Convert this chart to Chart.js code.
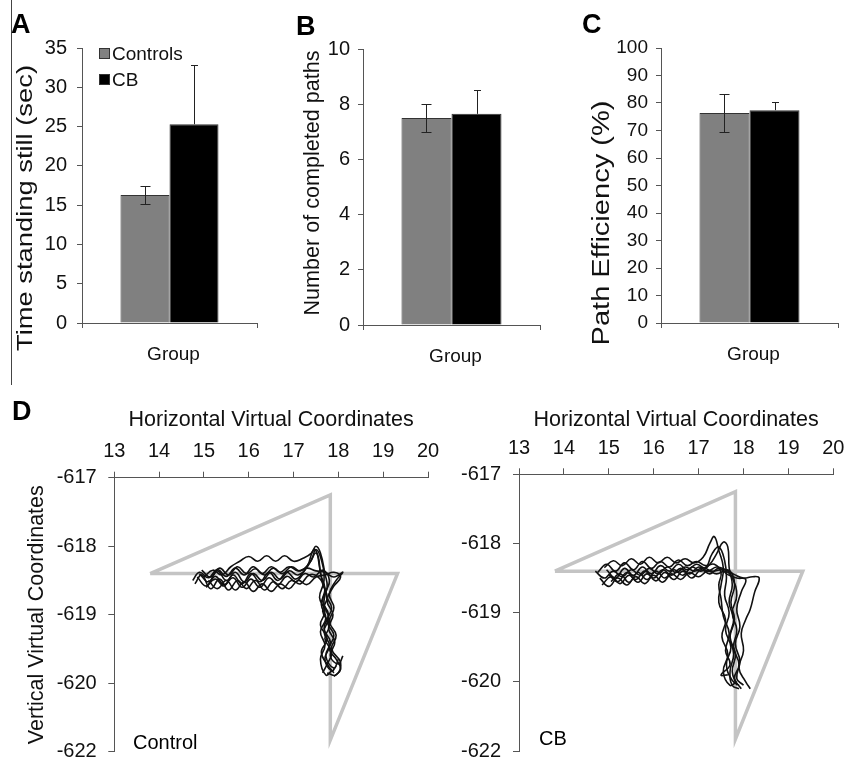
<!DOCTYPE html>
<html><head><meta charset="utf-8">
<script src="https://cdn.jsdelivr.net/npm/chart.js@4.4.0/dist/chart.umd.min.js"></script>
<style>
html,body{margin:0;padding:0;background:#fff;overflow:hidden;}
body{width:845px;height:763px;position:relative;font-family:"Liberation Sans",Arial,sans-serif;}
canvas{position:absolute;}
.lbl{position:absolute;color:#000;white-space:nowrap;}
.panel{font-weight:bold;font-size:27px;line-height:27px;}
.note{font-size:20px;line-height:20px;}
#sep{position:absolute;left:11px;top:0;width:1px;height:385px;background:#444;}
</style></head><body>
<div id="sep"></div>
<canvas id="cA" width="280" height="380" style="left:0;top:0"></canvas>
<canvas id="cB" width="280" height="380" style="left:280px;top:0"></canvas>
<canvas id="cC" width="285" height="380" style="left:560px;top:0"></canvas>
<canvas id="cD1" width="450" height="390" style="left:0;top:385px"></canvas>
<canvas id="cD2" width="432" height="390" style="left:425px;top:385px"></canvas>
<div class="lbl panel" style="left:11px;top:11px">A</div>
<div class="lbl panel" style="left:296px;top:13px">B</div>
<div class="lbl panel" style="left:582px;top:11px">C</div>
<div class="lbl panel" style="left:12px;top:398px">D</div>
<div class="lbl note" style="left:133px;top:732px">Control</div>
<div class="lbl note" style="left:539px;top:728px">CB</div>
<script>
// ---------- data ----------
const groups = ['Group'];
const seriesNames = ['Controls', 'CB'];
const seriesFill = ['#808080', '#000000'];

const timeMeans = [16.3, 25.3];
const timeErrs = [1.15, 7.5];
const pathsMeans = [7.5, 7.65];
const pathsErrs = [0.5, 0.87];
const effMeans = [76.4, 77.4];
const effErrs = [6.9, 3.0];

const yTickValuesD = [-617, -618, -619, -620, -621];
const yTickLabelsD = ['-617', '-618', '-619', '-620', '-622'];

const targetPath = [[13.8, -618.4], [17.82, -617.25], [17.82, -620.83], [19.32, -618.4], [13.8, -618.4]];

const ctrl1 = [[14.8,-618.55],[14.95,-618.42],[15.15,-618.62],[15.35,-618.48],[15.55,-618.64],[15.75,-618.5],[15.95,-618.62],[16.15,-618.5],[16.35,-618.64],[16.55,-618.52],[16.75,-618.62],[16.95,-618.5],[17.15,-618.55],[17.35,-618.42],[17.55,-618.45],[17.7,-618.62],[17.68,-618.85],[17.78,-619.05],[17.68,-619.25],[17.8,-619.45],[17.7,-619.65],[17.85,-619.82],[17.95,-619.75]];
const ctrl2 = [[15.0,-618.45],[15.2,-618.35],[15.4,-618.42],[15.6,-618.3],[15.8,-618.22],[16.0,-618.15],[16.2,-618.22],[16.4,-618.14],[16.6,-618.22],[16.8,-618.14],[17.0,-618.22],[17.2,-618.18],[17.4,-618.1],[17.5,-618.0],[17.6,-618.1],[17.7,-618.4],[17.75,-618.6],[17.65,-618.8],[17.78,-619.0],[17.68,-619.2],[17.82,-619.4],[17.72,-619.6],[17.9,-619.78],[18.0,-619.65]];
const ctrl3 = [[14.9,-618.4],[15.1,-618.52],[15.3,-618.36],[15.5,-618.5],[15.7,-618.38],[15.9,-618.52],[16.1,-618.4],[16.3,-618.5],[16.5,-618.38],[16.7,-618.48],[16.9,-618.36],[17.1,-618.42],[17.3,-618.3],[17.45,-618.05],[17.55,-618.15],[17.6,-618.4],[17.7,-618.62],[17.62,-618.85],[17.72,-619.05],[17.6,-619.25],[17.7,-619.45],[17.6,-619.65],[17.72,-619.88],[17.85,-619.82]];
const ctrl4 = [[14.75,-618.5],[14.9,-618.38],[15.1,-618.46],[15.3,-618.34],[15.5,-618.44],[15.7,-618.32],[15.9,-618.42],[16.1,-618.3],[16.3,-618.4],[16.5,-618.3],[16.7,-618.38],[16.9,-618.3],[17.1,-618.36],[17.3,-618.32],[17.5,-618.36],[17.7,-618.38],[17.9,-618.45],[18.1,-618.38],[17.95,-618.5],[17.8,-618.7],[17.9,-618.9],[17.8,-619.1],[17.95,-619.3],[17.85,-619.5],[18.05,-619.7],[17.95,-619.88],[17.75,-619.85]];
const ctrl5 = [[15.05,-618.6],[15.25,-618.48],[15.45,-618.58],[15.65,-618.42],[15.85,-618.55],[16.05,-618.4],[16.25,-618.52],[16.45,-618.38],[16.65,-618.5],[16.85,-618.38],[17.05,-618.48],[17.25,-618.35],[17.4,-618.2],[17.5,-618.05],[17.62,-618.2],[17.68,-618.5],[17.58,-618.75],[17.7,-618.95],[17.6,-619.15],[17.75,-619.35],[17.62,-619.55],[17.78,-619.75],[17.9,-619.85]];
const ctrl6 = [[14.85,-618.45],[15.05,-618.58],[15.25,-618.44],[15.45,-618.56],[15.65,-618.46],[15.85,-618.6],[16.05,-618.48],[16.25,-618.6],[16.45,-618.46],[16.65,-618.56],[16.85,-618.44],[17.05,-618.52],[17.25,-618.4],[17.45,-618.45],[17.65,-618.35],[17.8,-618.5],[17.72,-618.7],[17.85,-618.9],[17.75,-619.1],[17.9,-619.3],[17.8,-619.5],[17.95,-619.65],[18.05,-619.8],[17.9,-619.9]];
const ctrl7 = [[14.95,-618.35],[15.15,-618.45],[15.35,-618.32],[15.55,-618.42],[15.75,-618.3],[15.95,-618.4],[16.15,-618.33],[16.35,-618.42],[16.55,-618.32],[16.75,-618.4],[16.95,-618.3],[17.15,-618.36],[17.35,-618.25],[17.5,-618.1],[17.58,-618.3],[17.65,-618.55],[17.75,-618.75],[17.65,-618.95],[17.8,-619.15],[17.7,-619.35],[17.85,-619.55],[17.75,-619.72],[17.65,-619.85]];
const ctrl8 = [[15.1,-618.5],[15.3,-618.62],[15.5,-618.5],[15.7,-618.64],[15.9,-618.52],[16.1,-618.66],[16.3,-618.55],[16.5,-618.66],[16.7,-618.55],[16.9,-618.62],[17.1,-618.5],[17.3,-618.56],[17.5,-618.45],[17.7,-618.42],[17.9,-618.38],[18.05,-618.45],[17.88,-618.6],[17.75,-618.8],[17.88,-619.0],[17.78,-619.2],[17.92,-619.4],[17.82,-619.6],[18.0,-619.72],[18.1,-619.6]];

const cb1 = [[14.7,-618.4],[14.9,-618.5],[15.1,-618.4],[15.3,-618.48],[15.5,-618.38],[15.7,-618.46],[15.9,-618.36],[16.1,-618.44],[16.3,-618.34],[16.5,-618.42],[16.7,-618.34],[16.9,-618.4],[17.1,-618.35],[17.3,-618.4],[17.5,-618.38],[17.7,-618.4],[17.8,-618.6],[17.72,-618.85],[17.8,-619.1],[17.7,-619.35],[17.78,-619.6],[17.7,-619.85],[17.75,-620.05],[17.9,-620.1]];
const cb2 = [[14.9,-618.35],[15.1,-618.25],[15.3,-618.32],[15.5,-618.22],[15.7,-618.3],[15.9,-618.2],[16.1,-618.28],[16.3,-618.2],[16.5,-618.28],[16.7,-618.22],[16.9,-618.28],[17.1,-618.2],[17.25,-618.0],[17.35,-617.9],[17.45,-618.1],[17.55,-618.35],[17.5,-618.6],[17.45,-618.85],[17.6,-619.1],[17.52,-619.35],[17.65,-619.6],[17.55,-619.85],[17.7,-620.05],[17.85,-620.0]];
const cb3 = [[14.8,-618.5],[15.0,-618.62],[15.2,-618.5],[15.4,-618.6],[15.6,-618.48],[15.8,-618.58],[16.0,-618.46],[16.2,-618.56],[16.4,-618.44],[16.6,-618.52],[16.8,-618.42],[17.0,-618.48],[17.2,-618.4],[17.4,-618.44],[17.6,-618.4],[17.75,-618.5],[17.85,-618.75],[17.75,-619.0],[17.85,-619.25],[17.78,-619.5],[17.9,-619.75],[17.8,-619.95],[17.95,-620.1]];
const cb4 = [[15.0,-618.45],[15.2,-618.55],[15.4,-618.42],[15.6,-618.52],[15.8,-618.4],[16.0,-618.5],[16.2,-618.38],[16.4,-618.46],[16.6,-618.36],[16.8,-618.44],[17.0,-618.34],[17.2,-618.4],[17.4,-618.34],[17.6,-618.38],[17.8,-618.45],[18.0,-618.5],[18.2,-618.48],[18.35,-618.5],[18.25,-618.7],[18.15,-618.95],[18.05,-619.1],[17.95,-619.3],[18.0,-619.55],[17.9,-619.8],[18.05,-620.0],[18.15,-620.1]];
const cb5 = [[14.75,-618.42],[14.95,-618.3],[15.15,-618.4],[15.35,-618.28],[15.55,-618.38],[15.75,-618.26],[15.95,-618.36],[16.15,-618.26],[16.35,-618.34],[16.55,-618.24],[16.75,-618.32],[16.95,-618.26],[17.15,-618.32],[17.35,-618.3],[17.5,-618.42],[17.45,-618.6],[17.5,-618.8],[17.55,-619.05],[17.68,-619.3],[17.6,-619.55],[17.7,-619.75],[17.5,-619.9],[17.65,-619.9]];
const cb6 = [[15.05,-618.55],[15.25,-618.44],[15.45,-618.56],[15.65,-618.42],[15.85,-618.52],[16.05,-618.4],[16.25,-618.5],[16.45,-618.38],[16.65,-618.46],[16.85,-618.34],[17.05,-618.4],[17.25,-618.3],[17.4,-618.15],[17.55,-617.98],[17.65,-618.05],[17.68,-618.35],[17.75,-618.6],[17.68,-618.85],[17.78,-619.1],[17.7,-619.35],[17.82,-619.6],[17.75,-619.85],[17.85,-620.05]];
const cb7 = [[14.85,-618.6],[15.05,-618.48],[15.25,-618.58],[15.45,-618.46],[15.65,-618.56],[15.85,-618.44],[16.05,-618.54],[16.25,-618.42],[16.45,-618.52],[16.65,-618.4],[16.85,-618.5],[17.05,-618.38],[17.25,-618.44],[17.45,-618.36],[17.65,-618.45],[17.85,-618.5],[18.05,-618.52],[17.95,-618.7],[17.85,-618.95],[17.92,-619.2],[17.82,-619.45],[17.92,-619.7],[17.85,-619.95],[18.0,-620.05]];
const cb8 = [[14.95,-618.38],[15.15,-618.5],[15.35,-618.36],[15.55,-618.46],[15.75,-618.34],[15.95,-618.44],[16.15,-618.32],[16.35,-618.4],[16.55,-618.3],[16.75,-618.38],[16.95,-618.3],[17.15,-618.35],[17.3,-618.15],[17.45,-618.05],[17.58,-618.25],[17.62,-618.5],[17.58,-618.75],[17.68,-619.0],[17.6,-619.25],[17.72,-619.5],[17.62,-619.75],[17.75,-619.98],[17.9,-620.05]];

const controlPaths = [ctrl1, ctrl2, ctrl3, ctrl4, ctrl5, ctrl6, ctrl7, ctrl8];
const cbPaths = [cb1, cb2, cb3, cb4, cb5, cb6, cb7, cb8];

// ---------- setup ----------
const FAMILY = '"Liberation Sans", Arial, sans-serif';
Chart.defaults.font.family = FAMILY;
Chart.defaults.color = '#111';
const AXIS = '#555';

const errorBarPlugin = {
  id: 'errorBars',
  afterDatasetsDraw(chart, args, opts) {
    const ctx = chart.ctx, ys = chart.scales.y;
    ctx.save();
    ctx.strokeStyle = opts.color || '#222';
    ctx.lineWidth = 1;
    chart.data.datasets.forEach((ds, i) => {
      const meta = chart.getDatasetMeta(i);
      const dir = (opts.directions || [])[i] || 'both';
      meta.data.forEach((bar, j) => {
        const v = ds.data[j], e = ds.errors[j];
        const top = Math.round(ys.getPixelForValue(v + e)) + 0.5;
        const bot = dir === 'both' ? Math.round(ys.getPixelForValue(v - e)) + 0.5 : bar.y;
        const x = Math.round(bar.x) + 0.5, cw = (opts.caps || [10, 10])[i] / 2;
        ctx.beginPath();
        ctx.moveTo(x, top); ctx.lineTo(x, bot);
        ctx.moveTo(x - cw, top); ctx.lineTo(x + cw, top);
        if (dir === 'both') { ctx.moveTo(x - cw, bot); ctx.lineTo(x + cw, bot); }
        ctx.stroke();
      });
    });
    ctx.restore();
  }
};

const innerLegendPlugin = {
  id: 'innerLegend',
  afterDraw(chart, args, opts) {
    if (!opts.display) return;
    const {ctx, chartArea} = chart;
    ctx.save();
    ctx.font = opts.size + 'px ' + FAMILY;
    ctx.textBaseline = 'middle';
    chart.data.datasets.forEach((ds, i) => {
      const x = chartArea.left + opts.x, y = chartArea.top + opts.y + i * opts.gap;
      ctx.fillStyle = ds.backgroundColor;
      ctx.fillRect(x, y, opts.box, opts.box);
      ctx.strokeStyle = '#333'; ctx.lineWidth = 1;
      ctx.strokeRect(x + 0.5, y + 0.5, opts.box - 1, opts.box - 1);
      ctx.fillStyle = '#111';
      ctx.fillText(ds.label, x + opts.box + 2, y + opts.box / 2 + 1);
    });
    ctx.restore();
  }
};

// y-axis title drawn rotated and fitted to the length it has in the figure
const sideTitlePlugin = {
  id: 'sideTitle',
  afterDraw(chart, args, o) {
    const text = chart.options.scales.y.title.text;
    if (!o.length || !text) return;
    const ctx = chart.ctx;
    ctx.save();
    ctx.font = o.size + 'px ' + FAMILY;
    const w = ctx.measureText(text).width;
    ctx.translate(o.cx, o.cy);
    ctx.rotate(-Math.PI / 2);
    ctx.scale(o.length / w, 1);
    ctx.fillStyle = '#111';
    ctx.textAlign = 'center';
    ctx.textBaseline = 'middle';
    ctx.fillText(text, 0, 0);
    ctx.restore();
  }
};

function barChart(id, c) {
  return new Chart(document.getElementById(id), {
    type: 'bar',
    data: {
      labels: groups,
      datasets: seriesNames.map((n, i) => ({
        label: n, data: [c.means[i]], errors: [c.errs[i]],
        backgroundColor: seriesFill[i], borderColor: '#333', borderWidth: 1,
        barPercentage: 1, categoryPercentage: c.cat
      }))
    },
    options: {
      responsive: false, animation: false, devicePixelRatio: 1,
      layout: {padding: c.pad},
      plugins: {
        legend: {display: false}, tooltip: {enabled: false},
        errorBars: {caps: [10, 7], color: '#222', directions: ['both', 'plus']},
        innerLegend: {display: !!c.legend, x: 17, y: 0, gap: 26, box: 11, size: 19},
        sideTitle: c.side
      },
      scales: {
        x: {
          grid: {drawOnChartArea: false, tickLength: 5, color: AXIS},
          border: {color: AXIS},
          ticks: {font: {size: 19}, padding: 15, labelOffset: 4, color: '#111'},
          afterFit(s) { s.height = c.xH; }
        },
        y: {
          min: 0, max: c.max,
          ticks: {stepSize: c.step, font: {size: c.tick}, padding: c.yPad, color: '#111'},
          grid: {drawOnChartArea: false, tickLength: 5, color: AXIS},
          border: {color: AXIS},
          title: {display: false, text: c.title},
          afterFit(s) { s.width = c.yW; }
        }
      }
    },
    plugins: [errorBarPlugin, innerLegendPlugin, sideTitlePlugin]
  });
}

barChart('cA', {means: timeMeans, errs: timeErrs, cat: 0.56, pad: {left: 0, top: 48, right: 23, bottom: 0},
  xH: 57, yW: 82, max: 35, step: 5, tick: 20, yPad: 10, title: 'Time standing still (sec)', legend: true,
  side: {size: 22.5, length: 286, cx: 26, cy: 208}});
barChart('cB', {means: pathsMeans, errs: pathsErrs, cat: 0.565, pad: {left: 0, top: 49, right: 20, bottom: 0},
  xH: 55, yW: 83, max: 10, step: 2, tick: 20, yPad: 8, title: 'Number of completed paths',
  side: {size: 21.5, length: 265, cx: 33, cy: 183}});
barChart('cC', {means: effMeans, errs: effErrs, cat: 0.565, pad: {left: 0, top: 48, right: 7, bottom: 0},
  xH: 57, yW: 101, max: 100, step: 10, tick: 19, yPad: 8, title: 'Path Efficiency (%)',
  side: {size: 23, length: 245, cx: 42.5, cy: 223}});

function pathChart(id, paths, c) {
  const datasets = paths.map(p => ({
    data: p.map(([x, y]) => ({x, y})), showLine: true, borderColor: '#111', borderWidth: 1.6,
    pointRadius: 0, tension: 0.45, fill: false
  }));
  datasets.push({
    data: targetPath.map(([x, y]) => ({x, y})), showLine: true, borderColor: '#c4c4c4', borderWidth: 3.5,
    pointRadius: 0, tension: 0, fill: false
  });
  return new Chart(document.getElementById(id), {
    type: 'scatter',
    data: {datasets},
    options: {
      responsive: false, animation: false, devicePixelRatio: 1,
      layout: {padding: c.pad},
      plugins: {legend: {display: false}, tooltip: {enabled: false}},
      scales: {
        x: {
          type: 'linear', position: 'top', min: 13, max: 20,
          ticks: {stepSize: 1, font: {size: 20, lineHeight: 1}, padding: 10, color: '#111'},
          grid: {drawOnChartArea: false, tickLength: 6, color: AXIS},
          border: {color: AXIS},
          title: {display: true, text: 'Horizontal Virtual Coordinates', color: '#111', font: {size: 21.5}, padding: {top: 22, bottom: 0}},
          afterFit(s) { s.height = c.xH; }
        },
        y: {
          type: 'linear', min: -621, max: -617,
          ticks: {stepSize: 1, font: {size: 20, lineHeight: 1}, padding: c.yPad, color: '#111',
            callback: (v) => yTickLabelsD[yTickValuesD.indexOf(v)]},
          grid: {drawOnChartArea: false, tickLength: 6, color: AXIS},
          border: {color: AXIS},
          title: {display: !!c.ytitle, text: 'Vertical Virtual Coordinates', color: '#111', font: {size: 21.5}, padding: {top: 24, bottom: 0}},
          afterFit(s) { s.width = c.yW; }
        }
      }
    }
  });
}

pathChart('cD1', controlPaths, {pad: {left: 0, top: 0, right: 22, bottom: 23.3}, xH: 92.7, yW: 114.3, yPad: 11.6, ytitle: true});
pathChart('cD2', cbPaths, {pad: {left: 0, top: 0, right: 23.7, bottom: 24}, xH: 89.3, yW: 94, yPad: 12});
</script>
</body></html>
